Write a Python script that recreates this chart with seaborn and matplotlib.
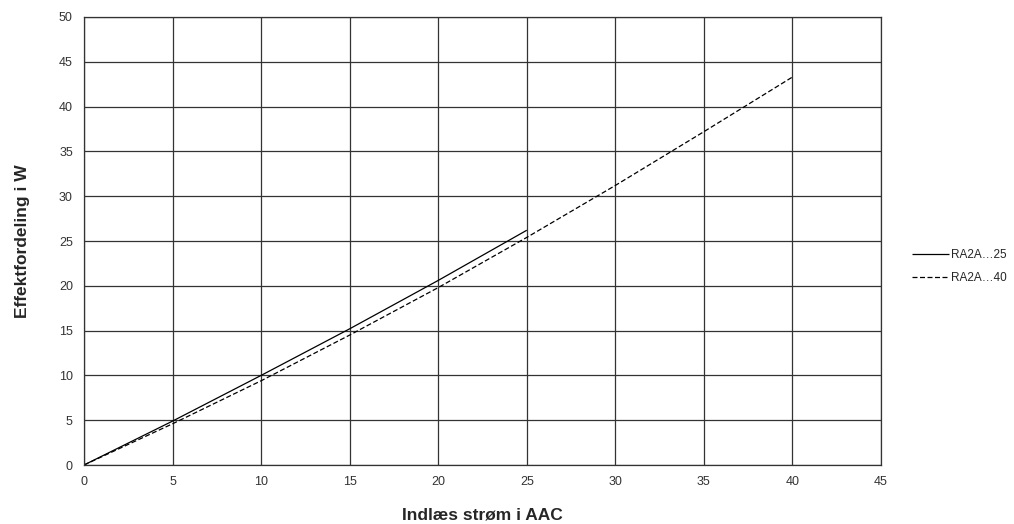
import pandas as pd
import matplotlib.pyplot as plt
import seaborn as sns

sns.set_style("white")
plt.rcParams['font.family'] = ['Liberation Sans', 'DejaVu Sans']

current_25 = [0, 5, 10, 15, 20, 25]
power_25 = [0, 4.9, 10.0, 15.2, 20.6, 26.2]
current_40 = [0, 5, 10, 15, 20, 25, 30, 35, 40]
power_40 = [0, 4.6, 9.4, 14.5, 19.8, 25.4, 31.2, 37.2, 43.3]

df = pd.concat([
    pd.DataFrame({"I": current_25, "P": power_25, "model": "RA2A…25"}),
    pd.DataFrame({"I": current_40, "P": power_40, "model": "RA2A…40"}),
])

fig = plt.figure(figsize=(10.14, 5.24), dpi=100)
ax = fig.add_axes([84 / 1014, 1 - 465 / 524, (881 - 84) / 1014, (465 - 17) / 524])

sns.lineplot(data=df, x="I", y="P", hue="model", style="model",
             palette=["black", "black"], dashes=[(1, 0), (4, 2)],
             linewidth=0.9, ax=ax)

ax.set_xlim(0, 45)
ax.set_ylim(0, 50)
ax.set_xticks(range(0, 46, 5))
ax.set_yticks(range(0, 51, 5))
ax.grid(True, color="#333333", linewidth=0.9)
for s in ax.spines.values():
    s.set_color("#333333")
    s.set_linewidth(0.9)
ax.tick_params(length=0, labelsize=9, pad=8, colors="#333333")
ax.set_xlabel("Indlæs strøm i AAC", fontsize=12.5, fontweight="bold", labelpad=14)
ax.set_ylabel("Effektfordeling i W", fontsize=12.5, fontweight="bold", labelpad=21)

ax.legend(loc="center left", bbox_to_anchor=(1.025, 0.443), frameon=False,
          fontsize=8.5, handlelength=3.2, handletextpad=0.1, labelspacing=0.9)

fig.savefig("out.png", dpi=100)
